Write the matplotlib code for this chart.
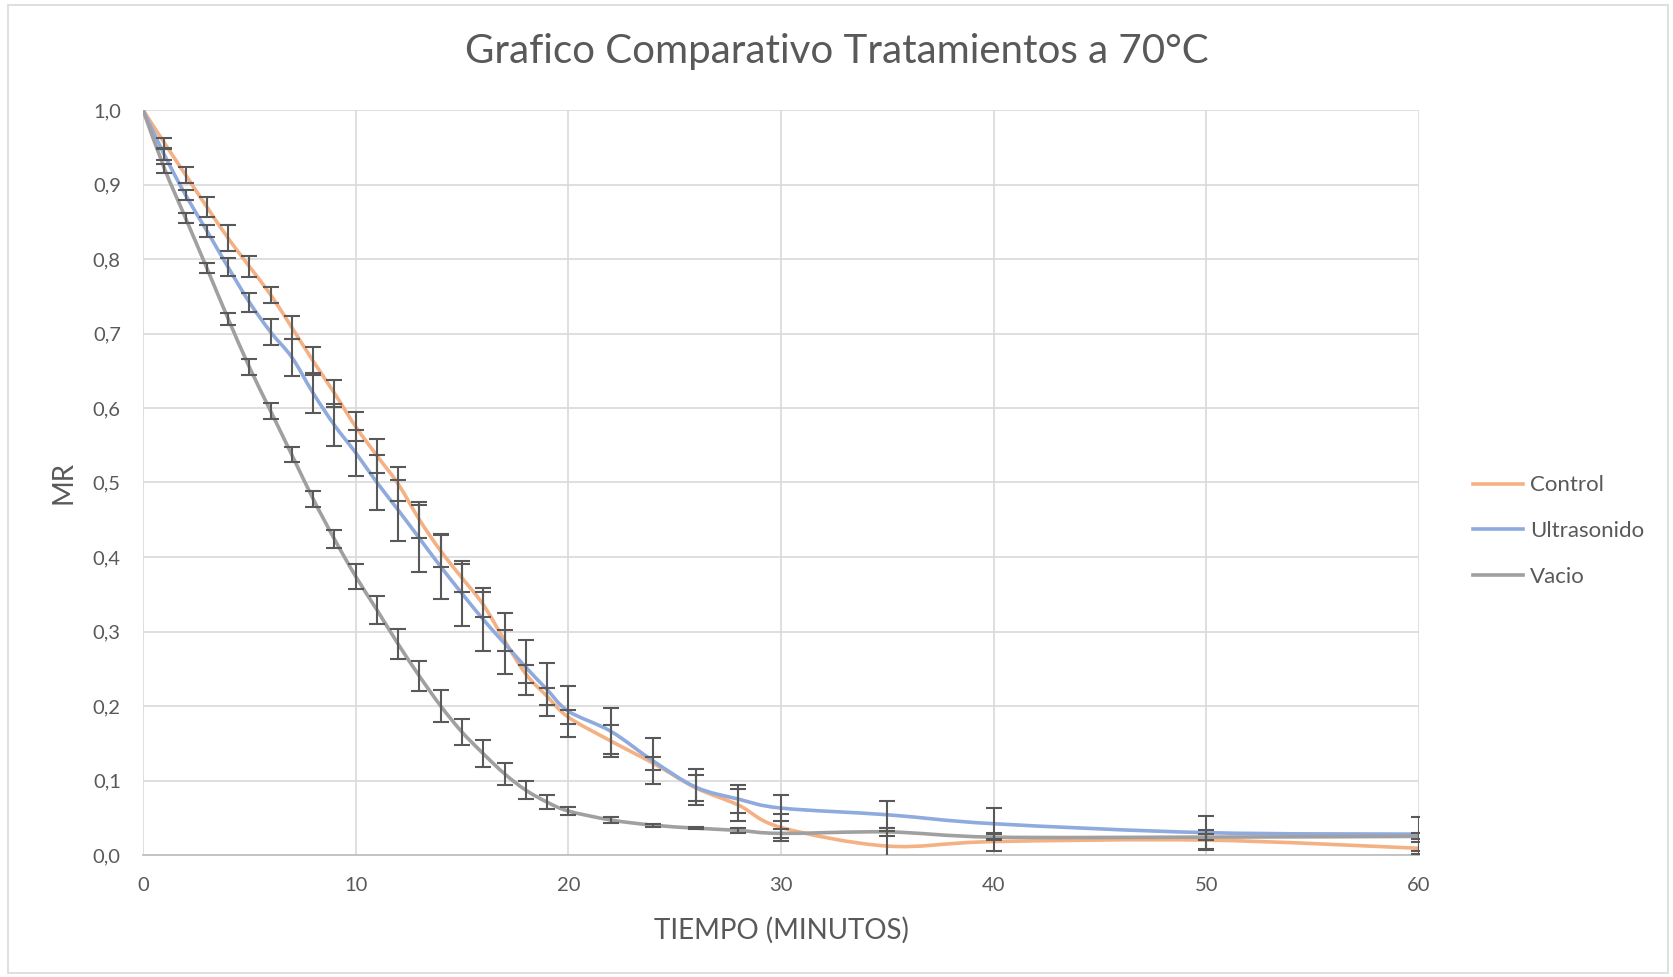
import matplotlib
matplotlib.use('Agg')
import matplotlib.pyplot as plt
from matplotlib.path import Path
from matplotlib.patches import PathPatch, Rectangle
from matplotlib.lines import Line2D
from matplotlib.ticker import FuncFormatter, MultipleLocator

plt.rcParams['font.family'] = ['Lato', 'DejaVu Sans']

# datos
tiempo = [0, 1, 2, 3, 4, 5, 6, 7, 8, 9, 10, 11, 12, 13, 14, 15, 16, 17, 18, 19, 20,
          22, 24, 26, 28, 30, 35, 40, 50, 60]

control = [1.000, 0.956, 0.913, 0.870, 0.828, 0.790, 0.752, 0.708, 0.663, 0.620, 0.575,
           0.536, 0.498, 0.450, 0.408, 0.372, 0.336, 0.288, 0.243, 0.213, 0.185,
           0.153, 0.123, 0.090, 0.067, 0.037, 0.012, 0.018, 0.020, 0.009]
control_err = [0, 0.007, 0.011, 0.013, 0.017, 0.014, 0.011, 0.015, 0.019, 0.018, 0.019,
               0.023, 0.023, 0.024, 0.022, 0.019, 0.017, 0.014, 0.012, 0.011, 0.009,
               0.022, 0.009, 0.017, 0.021, 0.018, 0.020, 0.012, 0.013, 0.008]

ultrasonido = [1.000, 0.940, 0.886, 0.838, 0.789, 0.742, 0.702, 0.668, 0.620, 0.577, 0.540,
               0.500, 0.463, 0.425, 0.387, 0.351, 0.316, 0.284, 0.252, 0.222, 0.193,
               0.166, 0.126, 0.091, 0.075, 0.063, 0.054, 0.042, 0.030, 0.028]
ultrasonido_err = [0, 0.007, 0.007, 0.008, 0.012, 0.013, 0.017, 0.025, 0.027, 0.028, 0.031,
                   0.037, 0.041, 0.045, 0.044, 0.043, 0.042, 0.041, 0.037, 0.036, 0.034,
                   0.031, 0.031, 0.024, 0.019, 0.017, 0.018, 0.021, 0.022, 0.023]

vacio = [1.000, 0.922, 0.855, 0.788, 0.720, 0.655, 0.596, 0.537, 0.478, 0.424, 0.374,
         0.329, 0.283, 0.240, 0.200, 0.165, 0.136, 0.109, 0.087, 0.071, 0.059,
         0.047, 0.040, 0.036, 0.033, 0.029, 0.031, 0.024, 0.024, 0.025]
vacio_err = [0, 0.006, 0.007, 0.007, 0.008, 0.011, 0.011, 0.010, 0.011, 0.012, 0.017,
             0.019, 0.020, 0.020, 0.021, 0.018, 0.018, 0.015, 0.012, 0.009, 0.005,
             0.004, 0.002, 0.001, 0.003, 0.006, 0.005, 0.004, 0.004, 0.004]

series = [
    ('Control', control, control_err, '#F4B183'),
    ('Ultrasonido', ultrasonido, ultrasonido_err, '#8FAADC'),
    ('Vacio', vacio, vacio_err, '#A0A0A0'),
]

text_color = '#595959'


def smooth_path(xs, ys):
    # curva suavizada tipo Excel (Bezier por segmentos)
    pts = list(zip(xs, ys))
    verts = [pts[0]]
    codes = [Path.MOVETO]
    n = len(pts)
    for i in range(n - 1):
        p0 = pts[i - 1] if i > 0 else pts[i]
        p1 = pts[i]
        p2 = pts[i + 1]
        p3 = pts[i + 2] if i + 2 < n else pts[i + 1]
        c1 = (p1[0] + (p2[0] - p0[0]) / 6, p1[1] + (p2[1] - p0[1]) / 6)
        c2 = (p2[0] - (p3[0] - p1[0]) / 6, p2[1] - (p3[1] - p1[1]) / 6)
        verts += [c1, c2, p2]
        codes += [Path.CURVE4] * 3
    return Path(verts, codes)


fig = plt.figure(figsize=(16.74, 9.77), dpi=100)
ax = fig.add_axes([143 / 1674, 1 - 855 / 977, 1276 / 1674, 745 / 977])

for k, (name, vals, err, color) in enumerate(series):
    patch = PathPatch(smooth_path(tiempo, vals), facecolor='none', edgecolor=color,
                      lw=2.6, zorder=2 + k, capstyle='round')
    ax.add_patch(patch)
    ax.errorbar(tiempo[1:], vals[1:], yerr=err[1:], fmt='none', ecolor='#595959',
                elinewidth=1.5, capsize=6, capthick=1.5, zorder=6)

ax.set_xlim(0, 60)
ax.set_ylim(0, 1.0)
ax.xaxis.set_major_locator(MultipleLocator(10))
ax.yaxis.set_major_locator(MultipleLocator(0.1))
ax.yaxis.set_major_formatter(FuncFormatter(lambda v, p: f'{v:.1f}'.replace('.', ',')))
ax.grid(True, color='#D9D9D9', lw=1.2)
ax.set_axisbelow(True)
for s in ['top', 'right', 'left']:
    ax.spines[s].set_visible(False)
ax.spines['bottom'].set_color('#BFBFBF')
ax.spines['bottom'].set_linewidth(1.3)
ax.tick_params(length=0, labelsize=14.5, labelcolor=text_color)
ax.tick_params(axis='x', pad=16)
ax.tick_params(axis='y', pad=16)

ax.set_xlabel('TIEMPO (MINUTOS)', fontsize=20, color=text_color)
ax.xaxis.set_label_coords(0.5, -0.1007)
ax.xaxis.label.set_va('center')
ax.set_ylabel('MR', fontsize=20, color=text_color)
ax.yaxis.set_label_coords(-0.062, 0.5)
ax.yaxis.label.set_va('center')

fig.text(0.5, 1 - 51 / 977, 'Grafico Comparativo Tratamientos a 70°C', ha='center',
         va='center', fontsize=29, color=text_color)

handles = [Line2D([], [], color=c, lw=2.6) for _, _, _, c in series]
fig.legend(handles, [s[0] for s in series], loc='center left',
           bbox_to_anchor=(1473 / 1674, 1 - 531 / 977), frameon=False,
           fontsize=16, labelcolor=text_color, handlelength=2.25, handletextpad=0.3,
           labelspacing=1.15, borderpad=0, borderaxespad=0)

# borde del grafico
fig.patches.append(Rectangle((8 / 1674, 4 / 977), 1660 / 1674, 968 / 977,
                             transform=fig.transFigure, fill=False,
                             edgecolor='#D9D9D9', lw=1.2))

fig.savefig('out.png', dpi=100)
